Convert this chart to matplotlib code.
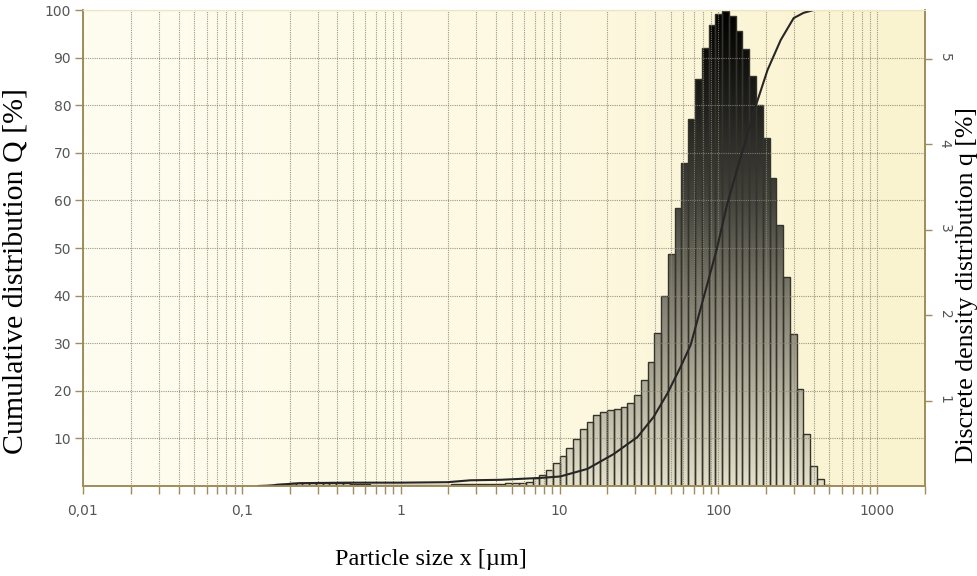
import matplotlib
matplotlib.use("Agg")
import matplotlib.pyplot as plt
import numpy as np
from matplotlib.colors import LinearSegmentedColormap
from matplotlib.path import Path
from matplotlib.patches import PathPatch
from matplotlib.ticker import FixedLocator, LogLocator, NullFormatter

# discrete density distribution q [%] per size class, left to right
q_values = [
    0.01, 0.02, 0.02, 0.03, 0.03, 0.04, 0.04, 0.04, 0.04, 0.04,
    0.03, 0.03, 0.02, 0.02, 0.02, 0.01, 0.01, 0.01, 0.01, 0.01,
    0.01, 0.01, 0.01, 0.01, 0.01, 0.01, 0.01, 0.02, 0.02, 0.02,
    0.02, 0.02, 0.02, 0.02, 0.02, 0.03, 0.03, 0.04,
    0.05, 0.09, 0.13, 0.19, 0.27, 0.35, 0.44, 0.55, 0.67, 0.75,
    0.83, 0.87, 0.89, 0.90, 0.92, 0.97, 1.06, 1.24, 1.45, 1.79,
    2.22, 2.71, 3.25, 3.78, 4.29, 4.76, 5.12, 5.39, 5.52, 5.56,
    5.50, 5.33, 5.11, 4.80, 4.46, 4.07, 3.60, 3.05, 2.45, 1.78,
    1.13, 0.61, 0.23, 0.08, 0.01,
]
# size classes: geometric steps of the instrument, upper limit ~508 µm
class_top = 508.0
class_step_dec = 0.04263

# cumulative distribution Q [%]
cum_x = [0.127, 0.151, 0.175, 0.233, 0.461, 1.0, 1.97, 2.75, 4.25, 5.67,
         7.59, 10.1, 15.0, 21.9, 31.0, 39.1, 47.9, 57.8, 66.9, 85.5,
         97.5, 114, 138, 171, 204, 247, 298, 344, 398]
cum_q = [0.0, 0.1, 0.3, 0.6, 0.7, 0.7, 0.8, 1.2, 1.3, 1.5,
         1.7, 2.0, 3.6, 6.7, 10.3, 14.5, 19.5, 25.0, 29.6, 42.6,
         49.6, 59.4, 69.0, 79.6, 87.4, 93.7, 98.3, 99.4, 100.0]

x_ticks = [0.01, 0.1, 1, 10, 100, 1000]
x_tick_labels = ["0,01", "0,1", "1", "10", "100", "1000"]
q_cum_ticks = [10, 20, 30, 40, 50, 60, 70, 80, 90, 100]
q_dens_ticks = [1, 2, 3, 4, 5]

n = len(q_values)
class_bottom = class_top / 10 ** (class_step_dec * n)
edges = np.geomspace(class_bottom, class_top, n + 1)

spine_col = "#a08c5c"
tick_txt = "#555555"
xmin, xmax, qmax = 0.01, 2000, 5.57

fig = plt.figure(figsize=(9.77, 5.76), dpi=100)
ax = fig.add_axes([83 / 977, 90 / 576, 842 / 977, 476 / 576])
ax2 = ax.twinx()

# bars live on the lower twin, grid + curve on top
ax.set_zorder(ax2.get_zorder() + 1)
ax.patch.set_visible(False)

ax.set_xscale("log")

# pale cream background, a little more yellow to the right
bg = LinearSegmentedColormap.from_list("bg", ["#fffdf0", "#fdf9e2", "#faf3cf"])
ax2.imshow(np.linspace(0, 1, 256).reshape(1, -1), extent=[0, 1, 0, 1],
           transform=ax2.transAxes, aspect="auto", cmap=bg, zorder=0)

# gradient-filled bars: vertical gradient clipped to the bar outlines
shade = LinearSegmentedColormap.from_list(
    "shade", [(0.0, "#e4e0ca"), (0.18, "#b8b5a2"), (0.39, "#827f72"),
              (0.6, "#44433d"), (0.81, "#1e1e1c"), (1.0, "#000000")])
grad = np.linspace(0, 1, 256).reshape(-1, 1)
im = ax2.imshow(grad, extent=[0, 1, 0, 1], transform=ax2.transAxes,
                origin="lower", aspect="auto", cmap=shade,
                interpolation="bilinear", zorder=1)
rects = []
for l, r, h in zip(edges[:-1], edges[1:], q_values):
    rects.append(Path([(l, 0), (r, 0), (r, h), (l, h), (l, 0)], closed=True))
clip = PathPatch(Path.make_compound_path(*rects), transform=ax2.transData,
                 facecolor="none", edgecolor="none")
ax2.add_patch(clip)
im.set_clip_path(clip)
ax2.bar(edges[:-1], q_values, width=np.diff(edges), align="edge",
        fill=False, edgecolor="#35342a", linewidth=1.0, zorder=2)

ax.set_xlim(xmin, xmax)
ax.set_ylim(0, 100)
ax2.set_ylim(0, qmax)

# cumulative curve
ax.plot(cum_x, cum_q, color="#262626", lw=1.5)

# grid
ax.xaxis.set_major_locator(FixedLocator(x_ticks))
ax.set_xticklabels(x_tick_labels)
ax.xaxis.set_minor_locator(LogLocator(base=10, subs=np.arange(2, 10), numticks=20))
ax.xaxis.set_minor_formatter(NullFormatter())
ax.set_yticks(q_cum_ticks)
ax.grid(which="both", axis="x", ls=(0, (1, 1)), color="#8a8772", lw=0.8, alpha=0.85)
ax.grid(which="major", axis="y", ls=(0, (1, 1)), color="#8a8772", lw=0.8, alpha=0.85)

ax.tick_params(axis="x", which="both", direction="out", length=6, width=1,
               color=spine_col, labelsize=10, labelcolor=tick_txt, pad=7)
ax.tick_params(axis="y", direction="out", length=5.5, width=1,
               color=spine_col, labelsize=10, labelcolor=tick_txt, pad=3)

ax2.set_yticks(q_dens_ticks)
ax2.tick_params(axis="y", direction="out", length=5, width=1,
                color=spine_col, labelsize=10, labelcolor=tick_txt, pad=4)
for lbl in ax2.get_yticklabels():
    lbl.set_rotation(-90)

for a in (ax, ax2):
    for side in ("left", "right", "bottom"):
        a.spines[side].set_color(spine_col)
        a.spines[side].set_linewidth(1.2)
    a.spines["top"].set_color("#eee4c8")

serif = ["Liberation Serif", "DejaVu Serif"]
fig.text(431 / 977, 1 - 559 / 576, "Particle size x [µm]", family=serif,
         fontsize=17.5, ha="center", va="center")
fig.text(16 / 977, 1 - 271 / 576, "Cumulative distribution Q [%]", family=serif,
         fontsize=21.5, ha="center", va="center", rotation=90)
fig.text(967 / 977, 1 - 285 / 576, "Discrete density distribution q [%]",
         family=serif, fontsize=18.5, ha="center", va="center", rotation=90)

fig.savefig("out.png", dpi=100)
